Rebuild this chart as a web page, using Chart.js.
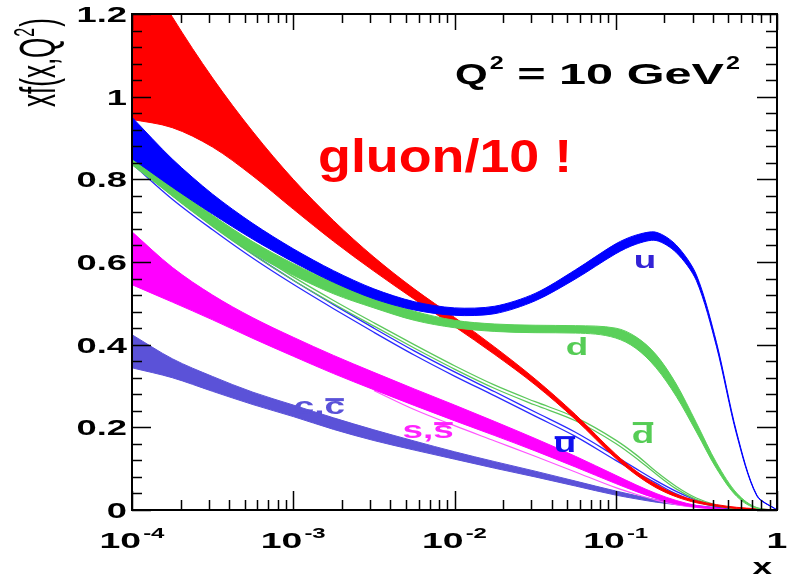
<!DOCTYPE html>
<html>
<head>
<meta charset="utf-8">
<script src="https://cdn.jsdelivr.net/npm/chart.js@4.4.1/dist/chart.umd.min.js"></script>
<style>
  html, body { margin: 0; padding: 0; background: #ffffff; }
  canvas { display: block; }
</style>
</head>
<body>
<canvas id="pdf" width="800" height="575"></canvas>
<script>
// Sampling points in x (Bjorken x), shared by every parton band
const xGrid = [1e-4, 1.778e-4, 3.162e-4, 5.623e-4, 1e-3, 1.778e-3, 3.162e-3, 5.623e-3,
               1e-2, 1.778e-2, 3.162e-2, 5.623e-2, 0.1, 0.1334, 0.1778, 0.2371,
               0.3162, 0.4217, 0.5623, 0.7499, 1.0];

// x*f(x,Q^2) at Q^2 = 10 GeV^2 : upper / lower edges of each uncertainty band
const gluonHi = [1.36, 1.193, 1.045, 0.915, 0.80, 0.70, 0.612, 0.535, 0.466, 0.394, 0.317, 0.231,
                 0.135, 0.0945, 0.062, 0.038, 0.0225, 0.013, 0.0065, 0.003, 0];
const gluonLo = [0.945, 0.925, 0.878, 0.808, 0.728, 0.65, 0.578, 0.51, 0.444, 0.376, 0.303, 0.219,
                 0.125, 0.0855, 0.054, 0.032, 0.0175, 0.009, 0.0035, 0.001, 0];

const uHi = [0.95, 0.849, 0.764, 0.693, 0.632, 0.579, 0.535, 0.504, 0.489, 0.493, 0.524, 0.581,
             0.644, 0.665, 0.672, 0.641, 0.569, 0.405, 0.188, 0.036, 0];
const uLo = [0.85, 0.781, 0.716, 0.655, 0.60, 0.551, 0.511, 0.484, 0.471, 0.475, 0.506, 0.559,
             0.62, 0.643, 0.652, 0.623, 0.555, 0.395, 0.182, 0.034, 0];

const dHi = [0.855, 0.784, 0.713, 0.649, 0.596, 0.551, 0.513, 0.481, 0.459, 0.45, 0.447, 0.446,
             0.44, 0.419, 0.376, 0.305, 0.211, 0.114, 0.041, 0.006, 0];
const dLo = [0.835, 0.76, 0.687, 0.621, 0.568, 0.523, 0.489, 0.459, 0.441, 0.432, 0.429, 0.428,
             0.416, 0.391, 0.344, 0.275, 0.189, 0.10, 0.033, 0.004, 0];

const sHi = [0.673, 0.587, 0.52, 0.465, 0.418, 0.374, 0.333, 0.293, 0.254, 0.214, 0.173, 0.13,
             0.084, 0.061, 0.04, 0.023, 0.011, 0.005, 0.001, 0, 0];
const sLo = [0.545, 0.503, 0.46, 0.415, 0.372, 0.33, 0.291, 0.253, 0.216, 0.18, 0.143, 0.104,
             0.064, 0.045, 0.028, 0.015, 0.007, 0.003, 0.001, 0, 0];
const sbarEdge = [null, null, null, null, null, null, 0.289, 0.243, 0.204, 0.167, 0.13, 0.092,
                  0.054, 0.038, 0.024, 0.013, 0.006, 0.002, 0.001, 0, 0];

const cHi = [0.424, 0.366, 0.323, 0.285, 0.254, 0.223, 0.194, 0.167, 0.141, 0.117, 0.094, 0.07,
             0.046, 0.035, 0.025, 0.017, 0.011, 0.006, 0.003, 0.001, 0];
const cLo = [0.344, 0.32, 0.287, 0.255, 0.226, 0.195, 0.168, 0.145, 0.123, 0.101, 0.08, 0.058,
             0.036, 0.027, 0.019, 0.013, 0.007, 0.004, 0.001, 0.001, 0];

const ubarHi = [0.842, 0.762, 0.688, 0.619, 0.556, 0.497, 0.44, 0.385, 0.334, 0.286, 0.237, 0.188,
                0.13, 0.10, 0.071, 0.045, 0.024, 0.01, 0.003, 0.001, 0];
const ubarLo = [0.838, 0.752, 0.678, 0.609, 0.546, 0.487, 0.43, 0.375, 0.324, 0.276, 0.227, 0.178,
                0.12, 0.092, 0.065, 0.039, 0.02, 0.008, 0.003, 0.001, 0];

const dbarHi = [0.849, 0.768, 0.694, 0.626, 0.564, 0.507, 0.453, 0.40, 0.349, 0.302, 0.262, 0.224,
                0.169, 0.134, 0.093, 0.057, 0.029, 0.012, 0.003, 0.001, 0];
const dbarLo = [0.843, 0.76, 0.686, 0.618, 0.556, 0.499, 0.445, 0.392, 0.341, 0.294, 0.254, 0.216,
                0.161, 0.126, 0.087, 0.051, 0.025, 0.01, 0.003, 0.001, 0];

// Axis ticks
const yMajor = [0, 0.2, 0.4, 0.6, 0.8, 1.0, 1.2];
const yMajorLabels = ['0', '0.2', '0.4', '0.6', '0.8', '1', '1.2'];
const xDecades = [1e-4, 1e-3, 1e-2, 1e-1, 1];
const xDecadeBase = ['10', '10', '10', '10', '1'];
const xDecadeExp = ['-4', '-3', '-2', '-1', ''];

// Curve labels: [text, overlined tail, x, y(baseline), colour]
const curveLabels = [
  ['u',   '',  0.152,   0.586, '#3322d6'],
  ['d',   '',  0.0575,  0.375, '#55cc55'],
  ['',    'd', 0.1476,  0.162, '#55cc55'],
  ['',    'u', 0.0484,  0.140, '#1010ee'],
  ['s,',  's', 0.00686, 0.174, '#ff22ff'],
  ['c,',  'c', 0.00145, 0.232, '#5a52d8']
];

const COL = {
  gluon: '#ff0000', u: '#0000ff', d: '#5ad05a', s: '#ff00ff', c: '#5b52d8',
  ubar: '#2a2aff', dbar: '#5cc85c'
};

const pts = arr => xGrid.map((x, i) => ({ x: x, y: arr[i] }));

function band(hi, lo, color, order, w, extra) {
  return [
    Object.assign({ data: pts(hi), borderColor: color, backgroundColor: color, fill: '+1', borderWidth: w, order: order }, extra || {}),
    Object.assign({ data: pts(lo), borderColor: color, backgroundColor: color, fill: false, borderWidth: w, order: order }, extra || {})
  ];
}
function line(vals, color, order, w) {
  return { data: pts(vals), borderColor: color, backgroundColor: color, fill: false, borderWidth: w, order: order };
}

// the valence-u band uses a tension spline so its maximum stays rounded
const roundPeak = { cubicInterpolationMode: 'default', tension: 0.3 };

const datasets = [].concat(
  band(uHi, uLo, COL.u, 0, 1, roundPeak),
  band(dHi, dLo, COL.d, 1, 1),
  band(gluonHi, gluonLo, COL.gluon, 2, 1),
  [line(dbarHi, COL.dbar, 3, 1.3), line(dbarLo, COL.dbar, 3, 1.3)],
  [line(ubarHi, COL.ubar, 4, 1.3), line(ubarLo, COL.ubar, 4, 1.3)],
  band(sHi, sLo, COL.s, 5, 1),
  [line(sbarEdge, '#ff55ff', 5, 1.2)],
  band(cHi, cLo, COL.c, 6, 1)
);

// Horizontally stretched text (wide ROOT-style lettering)
function sText(ctx, str, x, y, font, sx, align) {
  ctx.save();
  ctx.font = font;
  const w = ctx.measureText(str).width * sx;
  const left = align === 'right' ? x - w : (align === 'center' ? x - w / 2 : x);
  ctx.translate(left, y);
  ctx.scale(sx, 1);
  ctx.textAlign = 'left';
  ctx.textBaseline = 'alphabetic';
  ctx.fillText(str, 0, 0);
  ctx.restore();
  return w;
}
function sWidth(ctx, str, font, sx) {
  ctx.save(); ctx.font = font; const w = ctx.measureText(str).width * sx; ctx.restore(); return w;
}

const frame = {
  id: 'rootFrame',
  afterDatasetsDraw(chart) {
    const ctx = chart.ctx;
    const xs = chart.scales.x, ys = chart.scales.y;

    // curve labels
    const lf = 'bold 23px "Liberation Sans", Arial, sans-serif';
    const lsx = 1.6;
    curveLabels.forEach(([head, tail, xv, yv, col]) => {
      const cx = xs.getPixelForValue(xv), by = ys.getPixelForValue(yv);
      const wHead = head ? sWidth(ctx, head, lf, lsx) : 0;
      const wTail = tail ? sWidth(ctx, tail, lf, lsx) : 0;
      const x0 = cx - (wHead + wTail) / 2;
      ctx.fillStyle = col;
      if (head) sText(ctx, head, x0, by, lf, lsx, 'left');
      if (tail) {
        const tx = x0 + wHead;
        sText(ctx, tail, tx, by, lf, lsx, 'left');
        const top = tail === 'd' ? by - 21 : by - 16;
        ctx.fillRect(tx + 1, top, wTail - 2, 3);
      }
    });
  },
  afterDraw(chart) {
    const ctx = chart.ctx;
    const xs = chart.scales.x, ys = chart.scales.y;
    const a = chart.chartArea;
    ctx.save();
    ctx.strokeStyle = '#000';
    ctx.fillStyle = '#000';

    // ticks along the four sides
    ctx.lineWidth = 1.5;
    ctx.beginPath();
    for (let k = 0; k <= 30; k++) {
      const v = k * 0.04;
      const py = Math.round(ys.getPixelForValue(v)) + 0.5;
      const major = k % 5 === 0;
      ctx.moveTo(a.left, py); ctx.lineTo(a.left + (major ? 19 : 10), py);
      ctx.moveTo(a.right, py); ctx.lineTo(a.right - (major ? 20 : 11), py);
    }
    for (let e = -4; e <= 0; e++) {
      for (let m = 1; m <= 9; m++) {
        const v = m * Math.pow(10, e);
        if (v > 1.0000001) break;
        const px = Math.round(xs.getPixelForValue(v)) + 0.5;
        const major = m === 1;
        ctx.moveTo(px, a.bottom); ctx.lineTo(px, a.bottom - (major ? 19 : 10));
        ctx.moveTo(px, a.top); ctx.lineTo(px, a.top + (major ? 16 : 9));
      }
    }
    ctx.stroke();

    // frame
    ctx.lineWidth = 2;
    ctx.strokeRect(a.left, a.top, a.right - a.left, a.bottom - a.top);

    // y tick labels
    const tf = 'bold 22px "Liberation Sans", Arial, sans-serif';
    yMajor.forEach((v, i) => {
      const py = ys.getPixelForValue(v);
      sText(ctx, yMajorLabels[i], 127, py + 8, tf, 1.65, 'right');
    });

    // x tick labels (power-of-ten notation)
    const ef = 'bold 15px "Liberation Sans", Arial, sans-serif';
    xDecades.forEach((v, i) => {
      const px = xs.getPixelForValue(v);
      const wb = sWidth(ctx, xDecadeBase[i], tf, 1.7);
      const we = xDecadeExp[i] ? sWidth(ctx, xDecadeExp[i], ef, 1.6) + 2 : 0;
      const x0 = px - (wb + we) / 2;
      sText(ctx, xDecadeBase[i], x0, 548, tf, 1.7, 'left');
      if (xDecadeExp[i]) sText(ctx, xDecadeExp[i], x0 + wb + 2, 538, ef, 1.6, 'left');
    });

    // axis titles
    sText(ctx, 'x', 772, 574, 'bold 22px "Liberation Sans", Arial, sans-serif', 1.6, 'right');

    ctx.save();
    ctx.translate(55, 107);
    ctx.rotate(-Math.PI / 2);
    ctx.scale(1, 1.9);
    ctx.font = '26px "Liberation Sans", Arial, sans-serif';
    ctx.textBaseline = 'alphabetic';
    ctx.fillText('xf(x,Q', 0, 0);
    let w = ctx.measureText('xf(x,Q').width;
    ctx.font = '16px "Liberation Sans", Arial, sans-serif';
    ctx.fillText('2', w + 1, -11);
    w += ctx.measureText('2').width + 2;
    ctx.font = '26px "Liberation Sans", Arial, sans-serif';
    ctx.fillText(')', w, 0);
    ctx.restore();

    // Q^2 annotation
    const qf = 'bold 30px "Liberation Sans", Arial, sans-serif';
    const qs = 'bold 18px "Liberation Sans", Arial, sans-serif';
    let qx = 455;
    qx += sText(ctx, 'Q', qx, 84, qf, 1.4, 'left');
    qx += sText(ctx, '2', qx + 2, 69, qs, 1.4, 'left') + 2;
    qx += sText(ctx, ' = 10 GeV', qx, 84, qf, 1.62, 'left');
    sText(ctx, '2', qx + 2, 69, qs, 1.4, 'left');

    // gluon scaling note
    ctx.fillStyle = '#ff0000';
    sText(ctx, 'gluon/10 !', 318, 172, 'bold 46px "Liberation Sans", Arial, sans-serif', 1.17, 'left');

    ctx.restore();
  }
};

new Chart(document.getElementById('pdf'), {
  type: 'line',
  data: { datasets: datasets },
  options: {
    responsive: false,
    devicePixelRatio: 1,
    animation: false,
    layout: { padding: { left: 132, top: 14, right: 23, bottom: 65 } },
    elements: { point: { radius: 0, hoverRadius: 0 }, line: { cubicInterpolationMode: 'monotone' } },
    plugins: { legend: { display: false }, tooltip: { enabled: false }, filler: { propagate: false } },
    scales: {
      x: { type: 'logarithmic', min: 1e-4, max: 1, display: false },
      y: { type: 'linear', min: 0, max: 1.2, display: false }
    }
  },
  plugins: [frame]
});
</script>
</body>
</html>
